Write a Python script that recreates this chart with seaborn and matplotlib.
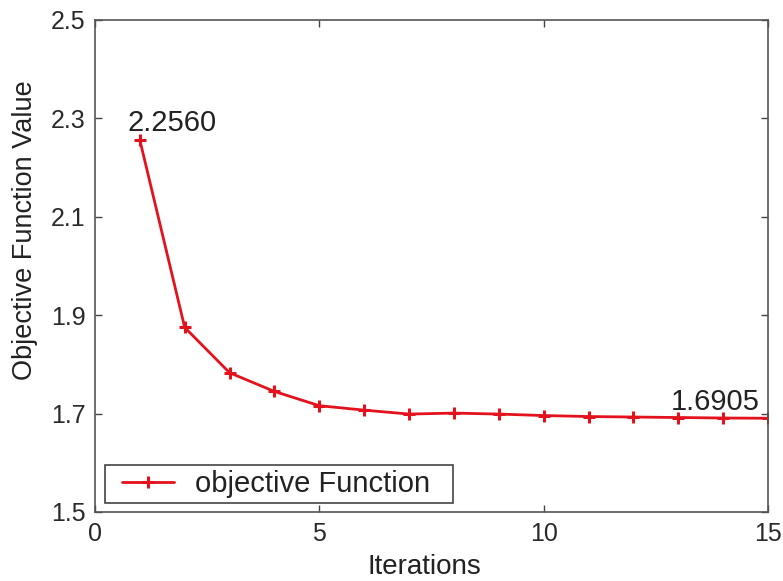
import matplotlib
matplotlib.use("Agg")
import matplotlib.pyplot as plt
from matplotlib.patches import Rectangle
import seaborn as sns
import pandas as pd

iterations = list(range(1, 16))
objective = [2.2560, 1.875, 1.783, 1.745, 1.716, 1.707, 1.699, 1.701,
             1.699, 1.696, 1.694, 1.693, 1.692, 1.691, 1.6905]
x_ticks = [0, 5, 10, 15]
y_ticks = [1.5, 1.7, 1.9, 2.1, 2.3, 2.5]

sns.set_style("white")
plt.rcParams['font.family'] = ['Liberation Sans', 'DejaVu Sans']

df = pd.DataFrame({"Iterations": iterations, "Objective": objective})

fig = plt.figure(figsize=(7.83, 5.81), dpi=100)
ax = fig.add_axes([0.1213, 0.1188, 0.8595, 0.8468])

sns.lineplot(data=df, x="Iterations", y="Objective", ax=ax, color="#e3121c",
             linewidth=2, marker="+", markersize=9, markeredgewidth=2.2,
             markeredgecolor="#e3121c", label="objective Function")

ax.set_xlim(0, 15)
ax.set_ylim(1.5, 2.5)
ax.set_xticks(x_ticks)
ax.set_yticks(y_ticks)
ax.set_xticklabels([str(t) for t in x_ticks])
ax.set_yticklabels([f"{t:.1f}" for t in y_ticks])
ax.tick_params(direction="in", length=5, width=1, labelsize=18,
               colors="#444444", top=True, right=True, bottom=True, left=True,
               labelcolor="#2a2a2a", pad=7)
for s in ax.spines.values():
    s.set_visible(True)
    s.set_color("#555555")
    s.set_linewidth(1.2)

ax.set_xlabel("Iterations", fontsize=20, color="#222222")
ax.set_ylabel("Objective Function Value", fontsize=19.5, color="#222222")
ax.xaxis.set_label_coords(0.49, -0.085)
ax.yaxis.set_label_coords(-0.084, 0.573)

ax.annotate(f"{objective[0]:.4f}", xy=(iterations[0], objective[0]),
            xytext=(-9, 6.5), textcoords="offset points", ha="left", va="baseline",
            fontsize=21, color="#222222")
ax.annotate(f"{objective[-1]:.4f}", xy=(iterations[-1], objective[-1]),
            xytext=(-6, 6), textcoords="offset points", ha="right", va="baseline",
            fontsize=21, color="#222222")

leg = ax.legend(loc="center left", fontsize=21, frameon=False,
                bbox_to_anchor=(0.0401, 0.057), borderaxespad=0.0,
                handlelength=1.8, borderpad=0.0, handletextpad=0.69)
for t in leg.get_texts():
    t.set_color("#222222")
ax.add_patch(Rectangle((0.0149, 0.018), 0.517, 0.077, transform=ax.transAxes,
                       fill=False, edgecolor="#444444", linewidth=1.2, zorder=5))

fig.savefig("out.png", dpi=100)
